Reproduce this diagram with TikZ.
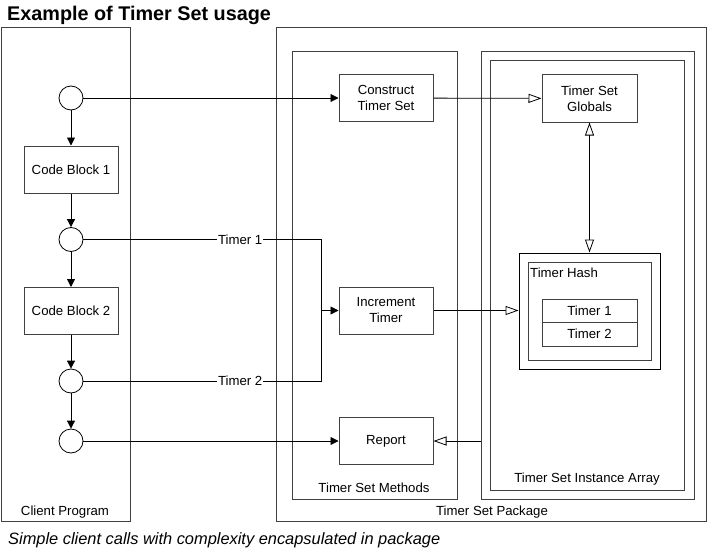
\documentclass[tikz,border=0pt]{standalone}
\usepackage{fontspec}
\setmainfont{Liberation Sans}
\usetikzlibrary{arrows.meta,fit,positioning}
\definecolor{boxgray}{HTML}{404040}
\tikzset{
  container/.style={draw=boxgray, line width=1pt, inner sep=0pt},
  stepbox/.style={draw=boxgray, line width=1pt, fill=white, align=center, font=\fontsize{13.2}{16}\selectfont, inner sep=0pt},
  circ/.style={draw=black, line width=0.8pt, circle, minimum size=24pt, inner sep=0pt, fill=white},
  lbl/.style={font=\fontsize{13.2}{16}\selectfont, inner sep=1pt},
  conn/.style={draw=black, line width=0.8pt},
  fa/.style={conn, -{Triangle[length=8pt,width=8pt]}},
  oa/.style={conn, -{Triangle[open,length=13pt,width=9pt,fill=white]}},
  oab/.style={conn, {Triangle[open,length=13pt,width=9pt,fill=white]}-{Triangle[open,length=13pt,width=9pt,fill=white]}},
}
\begin{document}
\begin{tikzpicture}[x=1pt,y=-1pt]
\useasboundingbox (0,0) rectangle (710,551);
% title
\node[anchor=west, font=\bfseries\fontsize{19.8}{24}\selectfont, inner sep=0pt] (title) at (7,15) {Example of Timer Set usage};
% containers
\node[container, fit={(1,28) (130,521)}] (client) {};
\node[container, fit={(276,28) (706,521)}] (pkg) {};
\node[container, fit={(292,52) (457,499)}] (methods) {};
\node[container, fit={(481,52) (694,499)}] (arrout) {};
\node[container, fit={(490,61) (684,490)}] (arrin) {};
\node[container, draw=black, fit={(519,253) (660,369)}] (hashout) {};
\node[container, fit={(528,262) (651,360)}] (hashin) {};
% container labels
\node[lbl] (clientlbl) at (65,512) {Client Program};
\node[lbl] (pkglbl) at (492,512) {Timer Set Package};
\node[lbl] (methlbl) at (374,488) {Timer Set Methods};
\node[lbl] (arrlbl) at (587,479) {Timer Set Instance Array};
\node[lbl, anchor=west] (hashlbl) at (529,273) {Timer Hash};
% client nodes
\node[circ] (c1) at (71,98) {};
\node[stepbox, minimum width=94pt, minimum height=47pt] (cb1) at (71,169.5) {Code Block 1};
\node[circ] (c2) at (71,239.5) {};
\node[stepbox, minimum width=94pt, minimum height=47pt] (cb2) at (71,311) {Code Block 2};
\node[circ] (c3) at (71,381) {};
\node[circ] (c4) at (71,441) {};
% methods
\node[stepbox, minimum width=94pt, minimum height=47pt] (construct) at (386,98) {Construct\\Timer Set};
\node[stepbox, minimum width=94pt, minimum height=47pt] (increment) at (386,310.5) {Increment\\Timer};
\node[stepbox, minimum width=94pt, minimum height=47pt] (report) at (386,441) {Report};
% array contents
\node[stepbox, minimum width=95pt, minimum height=47pt] (globals) at (589.5,98.5) {Timer Set\\Globals};
\node[stepbox, minimum width=95pt, minimum height=23pt] (t1) at (589.5,310.5) {Timer 1};
\node[stepbox, minimum width=95pt, minimum height=24pt] (t2) at (589.5,334) {Timer 2};
% client flow
\draw[fa] (c1) -- (cb1);
\draw[fa] (cb1) -- (c2);
\draw[fa] (c2) -- (cb2);
\draw[fa] (cb2) -- (c3);
\draw[fa] (c3) -- (c4);
% calls
\draw[fa] (c1) -- (construct);
\draw[oa] (construct) -- (globals);
\draw[oab] (globals) -- (hashout);
\coordinate (j) at (321,310.5);
\draw[conn] (c2.east) -- node[pos=0.66, fill=white, lbl] (tl1) {Timer 1} (c2.east -| j) -- (c3.east -| j) -- node[pos=0.34, fill=white, lbl] (tl2) {Timer 2} (c3.east);
\draw[fa] (j) -- (increment);
\draw[oa] (increment.east) -- (increment.east -| hashout.west);
\draw[fa] (c4) -- (report);
\draw[oa] (arrout.west |- report) -- (report.east);
% caption
\node[anchor=west, font=\itshape\fontsize{16.4}{19}\selectfont, inner sep=0pt] (caption) at (8,540) {Simple client calls with complexity encapsulated in package};
\end{tikzpicture}
\end{document}
